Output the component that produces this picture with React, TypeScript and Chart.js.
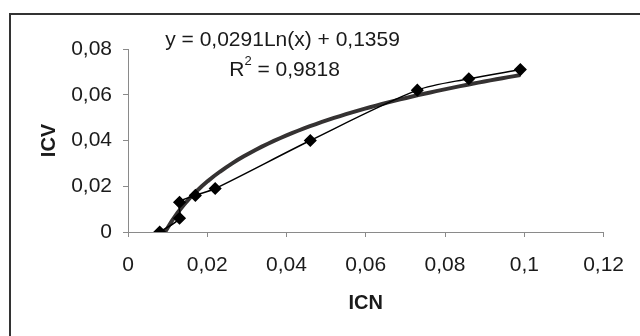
import { useEffect, useRef } from 'react';
import { Chart, registerables } from 'chart.js';

Chart.register(...registerables);

// ---- data ----
const ICN_VALUES = [0.008, 0.013, 0.013, 0.017, 0.022, 0.046, 0.073, 0.086, 0.099];
const ICV_VALUES = [0, 0.006, 0.013, 0.016, 0.019, 0.040, 0.062, 0.067, 0.071];
const TREND_COEF = 0.0291;
const TREND_CONST = 0.1359;
const TREND_SAMPLES = 60;
const EQUATION_TEXT = 'y = 0,0291Ln(x) + 0,1359';
const R2_TEXT = '0,9818';
const X_TITLE = 'ICN';
const Y_TITLE = 'ICV';

const FONT = '"Liberation Sans", Arial, Helvetica, sans-serif';
const TEXT_COLOR = '#1a1a1a';
const AXIS_COLOR = '#8a8a8a';

function fmt(v: number): string {
  const r = Math.round(v * 1000) / 1000;
  return String(r).replace('.', ',');
}

const dataPoints = ICN_VALUES.map((x, i) => ({ x, y: ICV_VALUES[i] }));
const xMin = Math.min(...ICN_VALUES);
const xMax = Math.max(...ICN_VALUES);
const trendPoints = Array.from({ length: TREND_SAMPLES + 1 }, (_, i) => {
  const x = xMin + ((xMax - xMin) * i) / TREND_SAMPLES;
  return { x, y: TREND_COEF * Math.log(x) + TREND_CONST };
});

const equationPlugin = {
  id: 'equation',
  afterDraw(chart: any) {
    const { ctx, chartArea: ca } = chart;
    ctx.save();
    ctx.fillStyle = TEXT_COLOR;
    ctx.textBaseline = 'middle';
    const cx = ca.left + (ca.right - ca.left) * 0.325;
    const big = `21px ${FONT}`;
    const small = `13px ${FONT}`;
    ctx.font = big;
    ctx.textAlign = 'center';
    ctx.fillText(EQUATION_TEXT, cx, ca.top - 9);
    // R² line
    const wR = ctx.measureText('R').width;
    const wRest = ctx.measureText(' = ' + R2_TEXT).width;
    ctx.font = small;
    const w2 = ctx.measureText('2').width;
    const total = wR + w2 + wRest;
    let x = cx + 2 - total / 2;
    const y = ca.top + 21;
    ctx.textAlign = 'left';
    ctx.font = big;
    ctx.fillText('R', x, y);
    x += wR;
    ctx.font = small;
    ctx.fillText('2', x, y - 9);
    x += w2;
    ctx.font = big;
    ctx.fillText(' = ' + R2_TEXT, x, y);
    ctx.restore();
  },
};

export default function App() {
  const canvasRef = useRef<HTMLCanvasElement | null>(null);

  useEffect(() => {
    const canvas = canvasRef.current;
    if (!canvas) return;
    const chart = new Chart(canvas, {
      type: 'scatter',
      data: {
        datasets: [
          {
            label: 'trend',
            data: trendPoints,
            showLine: true,
            borderColor: '#353232',
            borderWidth: 4,
            pointRadius: 0,
            tension: 0,
            order: 2,
          },
          {
            label: 'ICV',
            data: dataPoints,
            showLine: true,
            borderColor: '#000000',
            borderWidth: 1.5,
            tension: 0.3,
            pointStyle: 'rectRot',
            pointRadius: 5.5,
            pointBackgroundColor: '#000000',
            pointBorderColor: '#000000',
            order: 1,
          },
        ],
      },
      options: {
        responsive: false,
        animation: false,
        devicePixelRatio: 1,
        layout: { padding: { top: 49, right: 31, bottom: 0, left: 0 } },
        plugins: {
          legend: { display: false },
          tooltip: { enabled: false },
        },
        scales: {
          x: {
            type: 'linear',
            min: 0,
            max: 0.12,
            afterFit(scale: any) {
              scale.height = 104;
            },
            ticks: {
              stepSize: 0.02,
              callback: (v: any) => fmt(Number(v)),
              font: { family: FONT, size: 21 },
              color: TEXT_COLOR,
              padding: 16,
              maxRotation: 0,
              autoSkip: false,
            },
            grid: {
              display: true,
              drawOnChartArea: false,
              drawTicks: true,
              tickLength: 5,
              color: AXIS_COLOR,
            },
            border: { display: true, color: AXIS_COLOR, width: 1 },
            title: {
              display: true,
              text: X_TITLE,
              color: TEXT_COLOR,
              font: { family: FONT, size: 20, weight: 'bold' },
              padding: { top: 0, bottom: 21 },
            },
          },
          y: {
            type: 'linear',
            min: 0,
            max: 0.08,
            afterFit(scale: any) {
              scale.width = 128;
            },
            ticks: {
              stepSize: 0.02,
              callback: (v: any) => fmt(Number(v)),
              font: { family: FONT, size: 21 },
              color: TEXT_COLOR,
              padding: 11,
            },
            grid: {
              display: true,
              drawOnChartArea: false,
              drawTicks: true,
              tickLength: 5,
              color: AXIS_COLOR,
            },
            border: { display: true, color: AXIS_COLOR, width: 1 },
            title: {
              display: true,
              text: Y_TITLE,
              color: TEXT_COLOR,
              font: { family: FONT, size: 20, weight: 'bold' },
              padding: { top: 37, bottom: 0 },
            },
          },
        },
      },
      plugins: [equationPlugin],
    });
    return () => chart.destroy();
  }, []);

  return (
    <div
      style={{
        position: 'fixed',
        left: 0,
        top: 0,
        width: 640,
        height: 336,
        background: '#ffffff',
        overflow: 'hidden',
      }}
    >
      <div
        style={{
          position: 'absolute',
          left: 9,
          top: 13,
          width: 700,
          height: 400,
          borderTop: '2px solid #333333',
          borderLeft: '2px solid #333333',
          boxSizing: 'border-box',
        }}
      />
      <canvas
        ref={canvasRef}
        width={640}
        height={336}
        style={{ position: 'absolute', left: 0, top: 0, width: 640, height: 336 }}
      />
    </div>
  );
}
